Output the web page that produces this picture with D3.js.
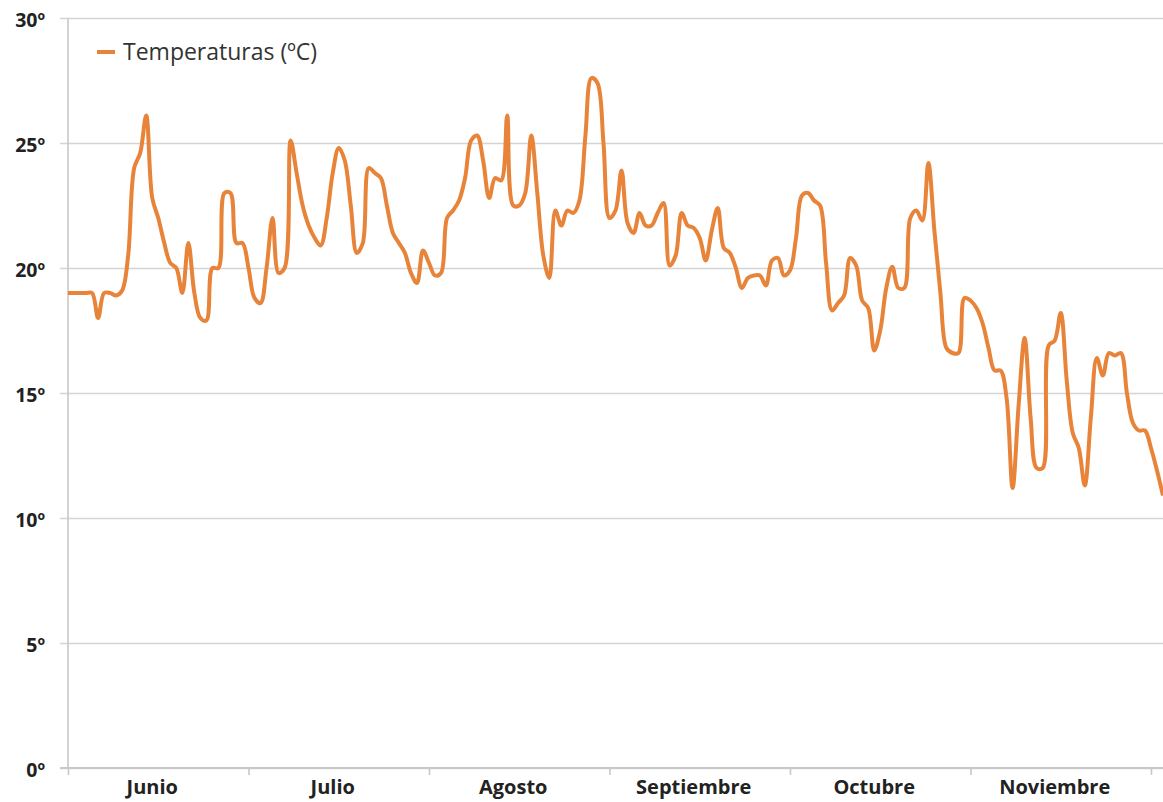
<!DOCTYPE html>
<html>
<head>
<meta charset="utf-8">
<script src="https://cdn.jsdelivr.net/npm/d3@7"></script>
<style>
  html, body { margin: 0; padding: 0; background: #fff; }
  svg { display: block; }
</style>
</head>
<body>
<svg id="chart" width="1163" height="802"></svg>
<script>
// ---- Data ----
const months = ["Junio", "Julio", "Agosto", "Septiembre", "Octubre", "Noviembre"];
const yTickValues = [0, 5, 10, 15, 20, 25, 30];
const yTickLabels = ["0º", "5º", "10º", "15º", "20º", "25º", "30º"];
const seriesName = "Temperaturas (ºC)";
const daysPerTick = 30;
const temperatures = [
  19.0, 19.0, 19.0, 19.0, 19.0, 18.0, 19.0, 19.0, 18.9, 19.1,
  20.5, 24.0, 24.6, 26.1, 22.8, 22.0, 21.0, 20.2, 20.0, 19.0,
  21.0, 19.0, 18.0, 17.9, 20.0, 20.0, 23.0, 23.0, 21.0, 21.0,
  20.0, 18.8, 18.6, 20.0, 22.0, 19.8, 20.0, 25.1, 23.8, 22.5,
  21.7, 21.2, 20.9, 22.0, 23.8, 24.8, 24.3, 22.5, 20.6, 21.0,
  24.0, 23.8, 23.6, 22.5, 21.4, 21.0, 20.6, 19.8, 19.4, 20.7,
  20.2, 19.7, 19.8, 22.0, 22.3, 22.7, 23.6, 25.1, 25.3, 24.3,
  22.8, 23.6, 23.5, 26.1, 22.5, 22.5, 23.0, 25.3, 23.0, 20.5,
  19.6, 22.3, 21.7, 22.3, 22.2, 22.7, 25.3, 27.6, 27.4, 25.0,
  22.0, 22.3, 23.9, 21.8, 21.4, 22.2, 21.7, 21.7, 22.2, 22.6,
  20.1, 20.5, 22.2, 21.7, 21.6, 21.2, 20.3, 21.5, 22.4, 20.8,
  20.6, 20.0, 19.2, 19.6, 19.7, 19.7, 19.3, 20.3, 20.4, 19.7,
  19.9, 21.2, 22.9, 23.0, 22.7, 22.5, 20.2, 18.3, 18.6, 18.9,
  20.4, 20.1, 18.7, 18.4, 16.7, 17.5, 19.2, 20.05, 19.2, 19.2,
  22.0, 22.3, 21.9, 24.2, 21.5, 19.0, 16.8, 16.6, 16.6, 18.8,
  18.7, 18.4, 17.8, 16.8, 15.9, 15.9, 14.8, 11.2, 14.5, 17.2,
  14.0, 12.0, 12.0, 16.9, 17.1, 18.2, 15.5, 13.4, 12.8, 11.3,
  14.0, 16.4, 15.7, 16.6, 16.5, 16.6, 15.0, 13.8, 13.5, 13.5,
  12.8, 11.9, 10.9
];

// ---- Layout ----
const plotLeft = 68, plotRight = 1163, plotTop = 18, plotBottom = 768;
const svg = d3.select("#chart");
const font = "'Open Sans', 'Noto Sans', sans-serif";

const x = d3.scaleLinear().domain([0, temperatures.length - 1]).range([plotLeft, plotRight]);
const y = d3.scaleLinear().domain([0, 30]).range([plotBottom, plotTop]);

// Gridlines (with left tick stubs)
const yAxis = d3.axisLeft(y)
  .tickValues(yTickValues)
  .tickSize(-(plotRight - plotLeft))
  .tickSizeOuter(0)
  .tickPadding(23)
  .tickFormat((d, i) => yTickLabels[i]);

const gy = svg.append("g").attr("transform", `translate(${plotLeft},0)`).call(yAxis);
gy.select(".domain").remove();
gy.selectAll(".tick line")
  .attr("x1", -8)
  .attr("stroke", "#d4d4d4")
  .attr("stroke-width", 1.6);
gy.selectAll(".tick text")
  .attr("font-family", font)
  .attr("font-weight", "bold")
  .attr("font-size", 19.5)
  .attr("fill", "#222")
  .attr("dy", "0.42em");

// Y axis line
svg.append("line")
  .attr("x1", plotLeft).attr("x2", plotLeft)
  .attr("y1", y(30)).attr("y2", y(0))
  .attr("stroke", "#c8c8c8").attr("stroke-width", 1.6);

// X axis
const tickIdx = d3.range(0, temperatures.length, daysPerTick);
const xAxis = d3.axisBottom(x).tickValues(tickIdx).tickSize(7).tickSizeOuter(0).tickFormat("");
const gx = svg.append("g").attr("transform", `translate(0,${plotBottom})`).call(xAxis);
gx.select(".domain").remove();
gx.selectAll(".tick line").attr("stroke", "#c8c8c8").attr("stroke-width", 1.6);
svg.append("line")
  .attr("x1", plotLeft - 8).attr("x2", plotRight)
  .attr("y1", y(0)).attr("y2", y(0))
  .attr("stroke", "#c8c8c8").attr("stroke-width", 1.8);

svg.append("g").selectAll("text")
  .data(months)
  .join("text")
  .attr("x", (d, i) => x(i * daysPerTick + 14))
  .attr("y", plotBottom + 26)
  .attr("text-anchor", "middle")
  .attr("font-family", font)
  .attr("font-weight", "bold")
  .attr("font-size", 20)
  .attr("fill", "#222")
  .text(d => d);

// Line
const line = d3.line()
  .x((d, i) => x(i))
  .y(d => y(d))
  .curve(d3.curveCatmullRom.alpha(0.5));

svg.append("path")
  .datum(temperatures)
  .attr("fill", "none")
  .attr("stroke", "#E8843A")
  .attr("stroke-width", 4)
  .attr("stroke-linejoin", "round")
  .attr("d", line);

// Legend
const lg = svg.append("g").attr("transform", "translate(97,52)");
lg.append("line").attr("x1", 0).attr("x2", 18).attr("y1", 0).attr("y2", 0)
  .attr("stroke", "#E8843A").attr("stroke-width", 4);
lg.append("text")
  .attr("x", 26).attr("y", 0).attr("dy", "0.36em")
  .attr("font-family", font)
  .attr("font-size", 23)
  .attr("fill", "#333")
  .text(seriesName);
</script>
</body>
</html>
